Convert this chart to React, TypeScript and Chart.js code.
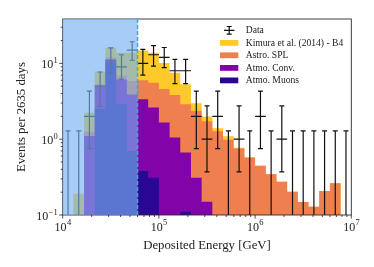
import React, { useEffect, useRef } from "react";
import { Chart, registerables } from "chart.js";

Chart.register(...registerables);

// log10(Deposited energy / GeV) bin edges: 27 bins, 9 per decade
const LOG_EDGES = [
  4.0, 4.1111, 4.2222, 4.3333, 4.4444, 4.5556, 4.6667, 4.7778, 4.8889,
  5.0, 5.1111, 5.2222, 5.3333, 5.4444, 5.5556, 5.6667, 5.7778, 5.8889,
  6.0, 6.1111, 6.2222, 6.3333, 6.4444, 6.5556, 6.6667, 6.7778, 6.8889, 7.0,
];

// Stacked components (events per bin), bottom to top
const ATMO_MUONS = [0, 0, 0, 2.5, 10.5, 2.9, 0.7, 0.38, 0.31, 0, 0, 0.11, 0, 0, 0, 0, 0, 0, 0, 0, 0, 0, 0, 0, 0, 0, 0];
const ATMO_CONV = [0, 0, 1.1, 2.5, 0.7, 3.25, 3.2, 2.98, 2.3, 1.66, 1.05, 0.56, 0.31, 0.15, 0, 0, 0, 0, 0, 0, 0, 0, 0, 0, 0, 0, 0];
const ASTRO_SPL = [0, 0, 0.15, 0.3, 0.8, 0.75, 1.94, 2.64, 2.96, 2.94, 2.77, 2.21, 2.05, 1.58, 1.27, 0.985, 0.754, 0.574, 0.445, 0.344, 0.274, 0.203, 0.148, 0.128, 0.207, 0.262, 0];
const KIMURA_B4 = [0, 0.19, 0.99, 2.5, 4.1, 6.9, 7.96, 8.8, 8.23, 5.5, 3.68, 2.42, 0.61, 0.26, 0.12, 0.11, 0.02, 0, 0, 0, 0, 0, 0, 0, 0, 0, 0];

// Observed data per bin with interval bounds
const DATA_COUNTS = [0, 0, 2, 5, 11, 9, 15, 10, 13, 12, 8, 8, 2, 1, 2, 0, 1, 0, 2, 0, 1, 0, 0, 0, 0, 0, 0];
const DATA_LOW = [0, 0, 0.75, 2.7, 7.5, 6.2, 11.0, 7.0, 9.2, 8.8, 5.4, 5.4, 0.75, 0.37, 0.75, 0, 0.37, 0, 0.75, 0, 0.37, 0, 0, 0, 0, 0, 0];
const DATA_HIGH = [1.29, 1.29, 4.3, 7.7, 16.0, 13.0, 19.3, 15.3, 17.2, 16.2, 11.3, 11.3, 4.3, 2.75, 4.3, 1.29, 2.75, 1.29, 4.3, 1.29, 2.75, 1.29, 1.29, 1.29, 1.29, 1.29, 1.29];

const X_TICKS = [1e4, 1e5, 1e6, 1e7];
const X_TICK_EXP = ["4", "5", "6", "7"];
const Y_TICKS = [0.1, 1, 10];
const Y_TICK_EXP = ["\u22121", "0", "1"];
const X_RANGE = [1e4, 1e7];
const Y_RANGE = [0.1, 38.5];
const SHADED_REGION = [1e4, 6e4];

const SERIES_LABELS = ["Atmo. Muons", "Atmo. Conv.", "Astro. SPL", "Kimura et al. (2014) - B4"];
const SERIES_COLORS = ["#2b0694", "#8004a8", "#ef7f4f", "#fdca2a"];
const DATA_LABEL = "Data";
const X_TITLE = "Deposited Energy [GeV]";
const Y_TITLE = "Events per 2635 days";

const FONT = "'Liberation Serif', 'DejaVu Serif', serif";

function cumulative(layers: number[][]): number[][] {
  const out: number[][] = [];
  let run = layers[0].map(() => 0);
  for (const l of layers) {
    run = run.map((v, i) => v + l[i]);
    out.push(run.slice());
  }
  return out;
}

const customPlugin = {
  id: "custom",
  afterDatasetsDraw(chart: any) {
    const { ctx, chartArea: ca, scales } = chart;
    const xs = scales.x;
    const ys = scales.y;
    const X = (v: number) => xs.getPixelForValue(v);
    const Y = (v: number) => ys.getPixelForValue(v);
    ctx.save();

    // data error bars
    ctx.strokeStyle = "#111";
    ctx.lineWidth = 1.2;
    const cap = 2.5;
    ctx.beginPath();
    for (let k = 0; k < DATA_COUNTS.length; k++) {
      const xl = X(10 ** LOG_EDGES[k]);
      const xr = X(10 ** LOG_EDGES[k + 1]);
      const xc = X(10 ** ((LOG_EDGES[k] + LOG_EDGES[k + 1]) / 2));
      const n = DATA_COUNTS[k];
      const yh = Y(DATA_HIGH[k]);
      if (n > 0) {
        const yv = Y(n);
        const yl = Y(DATA_LOW[k]);
        ctx.moveTo(xl, yv);
        ctx.lineTo(xr, yv);
        ctx.moveTo(xc, yl);
        ctx.lineTo(xc, yh);
        ctx.moveTo(xc - cap, yl);
        ctx.lineTo(xc + cap, yl);
      } else {
        ctx.moveTo(xc, ca.bottom);
        ctx.lineTo(xc, yh);
      }
      ctx.moveTo(xc - cap, yh);
      ctx.lineTo(xc + cap, yh);
    }
    ctx.stroke();

    // spines
    ctx.strokeStyle = "#2a2a2a";
    ctx.lineWidth = 0.9;
    ctx.strokeRect(ca.left, ca.top, ca.right - ca.left, ca.bottom - ca.top);

    // shaded low-energy region
    const sx0 = X(SHADED_REGION[0]);
    const sx1 = X(SHADED_REGION[1]);
    ctx.fillStyle = "rgba(117,178,240,0.65)";
    ctx.fillRect(sx0, ca.top, sx1 - sx0, ca.bottom - ca.top);
    ctx.strokeStyle = "#3fa6dc";
    ctx.lineWidth = 1.5;
    ctx.setLineDash([4, 2]);
    ctx.beginPath();
    ctx.moveTo(sx1, ca.top);
    ctx.lineTo(sx1, ca.bottom);
    ctx.stroke();
    ctx.setLineDash([]);

    // ticks
    ctx.strokeStyle = "#222";
    ctx.lineWidth = 0.8;
    ctx.beginPath();
    for (let e = 4; e <= 7; e++) {
      for (let m = 1; m <= 9; m++) {
        const v = m * 10 ** e;
        if (v > X_RANGE[1] * 1.0001) break;
        const x = X(v);
        const len = m === 1 ? 3.5 : 2;
        ctx.moveTo(x, ca.bottom);
        ctx.lineTo(x, ca.bottom + len);
      }
    }
    for (let e = -1; e <= 1; e++) {
      for (let m = 1; m <= 9; m++) {
        const v = m * 10 ** e;
        if (v > Y_RANGE[1]) break;
        const y = Y(v);
        const len = m === 1 ? 3.5 : 2;
        ctx.moveTo(ca.left, y);
        ctx.lineTo(ca.left - len, y);
      }
    }
    ctx.stroke();

    // tick labels
    const baseFont = `12px ${FONT}`;
    const supFont = `8.5px ${FONT}`;
    ctx.fillStyle = "#222";
    ctx.textBaseline = "alphabetic";
    ctx.textAlign = "left";
    X_TICKS.forEach((v, i) => {
      ctx.font = baseFont;
      const wb = ctx.measureText("10").width;
      ctx.font = supFont;
      const ws = ctx.measureText(X_TICK_EXP[i]).width;
      const x0 = X(v) - (wb + ws) / 2;
      ctx.font = baseFont;
      ctx.fillText("10", x0, ca.bottom + 15.7);
      ctx.font = supFont;
      ctx.fillText(X_TICK_EXP[i], x0 + wb + 0.3, ca.bottom + 10);
    });
    Y_TICKS.forEach((v, i) => {
      const y = Y(v);
      ctx.font = baseFont;
      const wb = ctx.measureText("10").width;
      ctx.font = supFont;
      const ws = ctx.measureText(Y_TICK_EXP[i]).width;
      const x0 = ca.left - 5 - ws - wb - 0.3;
      ctx.font = baseFont;
      ctx.fillText("10", x0, y + 4.5);
      ctx.font = supFont;
      ctx.fillText(Y_TICK_EXP[i], x0 + wb + 0.3, y - 0.5);
    });

    // axis titles
    ctx.font = `12.8px ${FONT}`;
    ctx.textAlign = "center";
    ctx.textBaseline = "middle";
    ctx.fillText(X_TITLE, (ca.left + ca.right) / 2, 245.5);
    ctx.save();
    ctx.translate(22, (ca.top + ca.bottom) / 2);
    ctx.rotate(-Math.PI / 2);
    ctx.fillText(Y_TITLE, 0, 0);
    ctx.restore();

    // legend
    const lx = 220;
    const tx = 245.7;
    const rows = [30.3, 42.9, 55.3, 67.9, 80.4];
    ctx.font = `9.6px ${FONT}`;
    ctx.textAlign = "left";
    ctx.textBaseline = "middle";
    // data entry
    ctx.strokeStyle = "#111";
    ctx.lineWidth = 1.2;
    ctx.beginPath();
    const cx = 229.2;
    const cy = rows[0];
    ctx.moveTo(cx - 5.2, cy);
    ctx.lineTo(cx + 5.2, cy);
    ctx.moveTo(cx, cy - 3.8);
    ctx.lineTo(cx, cy + 3.8);
    ctx.moveTo(cx - cap, cy - 3.8);
    ctx.lineTo(cx + cap, cy - 3.8);
    ctx.moveTo(cx - cap, cy + 3.8);
    ctx.lineTo(cx + cap, cy + 3.8);
    ctx.stroke();
    ctx.fillStyle = "#222";
    ctx.fillText(DATA_LABEL, tx, cy + 0.5);
    for (let i = 0; i < 4; i++) {
      const s = 3 - i;
      const ry = rows[i + 1];
      ctx.fillStyle = SERIES_COLORS[s];
      ctx.fillRect(lx, ry - 2.9, 18.3, 5.8);
      ctx.fillStyle = "#222";
      ctx.fillText(SERIES_LABELS[s], tx, ry + 0.5);
    }
    ctx.restore();
  },
};

export default function App() {
  const ref = useRef<HTMLCanvasElement>(null);
  useEffect(() => {
    const canvas = ref.current;
    if (!canvas) return;
    const cum = cumulative([ATMO_MUONS, ATMO_CONV, ASTRO_SPL, KIMURA_B4]);
    const nb = LOG_EDGES.length - 1;
    const datasets = cum.map((c, i) => ({
      label: SERIES_LABELS[i],
      data: LOG_EDGES.map((le, k) => ({ x: 10 ** le, y: Math.max(c[Math.min(k, nb - 1)], 1e-4) })),
      stepped: "before" as const,
      fill: "start",
      backgroundColor: SERIES_COLORS[i],
      borderColor: "rgba(0,0,0,0)",
      borderWidth: 0,
      pointRadius: 0,
      tension: 0,
    }));
    const chart = new Chart(canvas, {
      type: "line",
      data: { datasets },
      options: {
        animation: false,
        responsive: false,
        devicePixelRatio: 1,
        layout: { padding: { left: 62.7, right: 22.7, top: 19, bottom: 52 } },
        plugins: { legend: { display: false }, tooltip: { enabled: false } },
        scales: {
          x: { type: "logarithmic", min: X_RANGE[0], max: X_RANGE[1], display: false },
          y: { type: "logarithmic", min: Y_RANGE[0], max: Y_RANGE[1], display: false },
        },
      },
      plugins: [customPlugin],
    } as any);
    return () => chart.destroy();
  }, []);
  return (
    <div style={{ position: "fixed", left: 0, top: 0, width: 374, height: 267, background: "#fff" }}>
      <canvas ref={ref} width={374} height={267} style={{ display: "block", width: 374, height: 267 }} />
    </div>
  );
}
